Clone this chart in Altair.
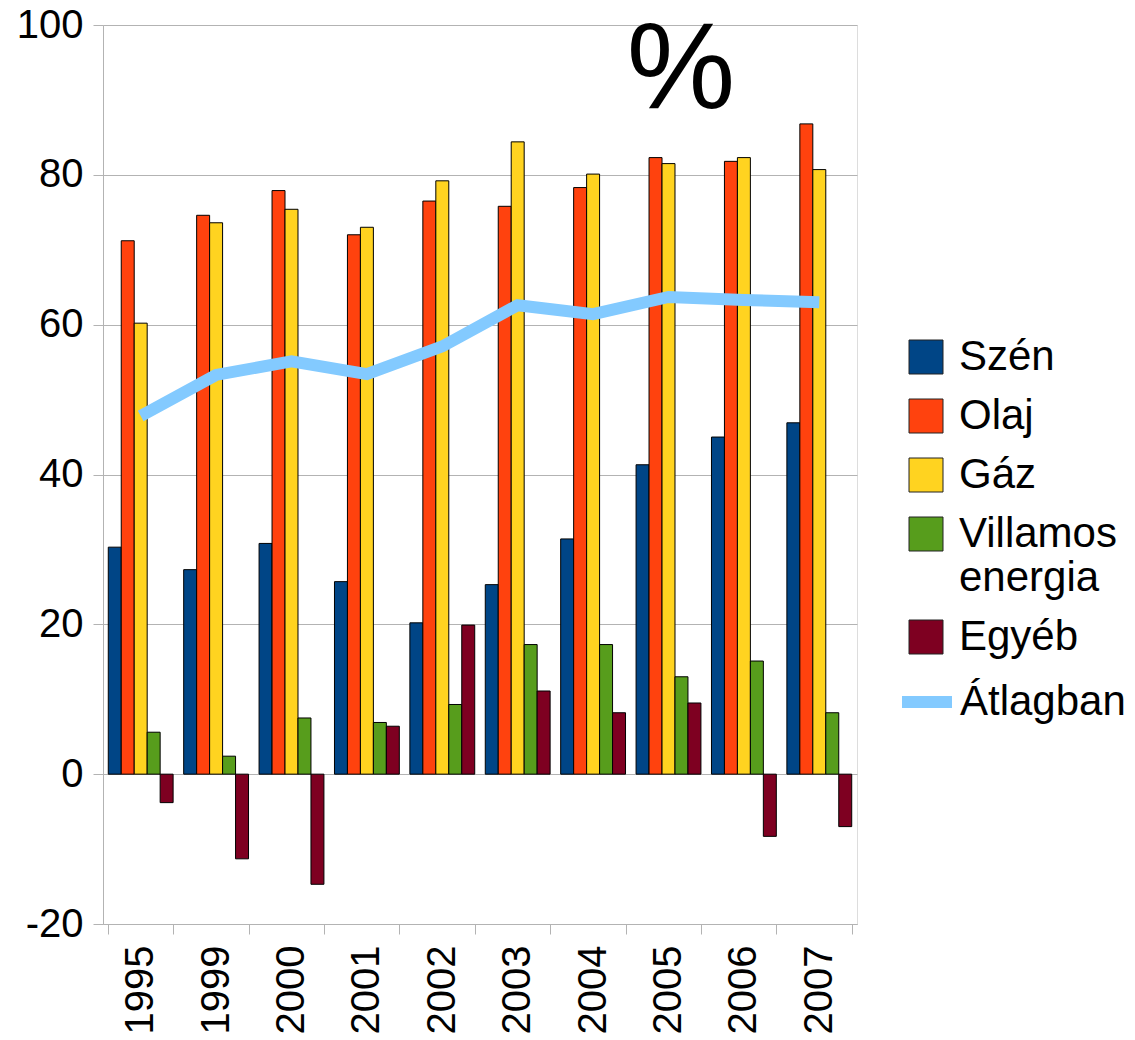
import altair as alt
import pandas as pd

years = ["1995", "1999", "2000", "2001", "2002", "2003", "2004", "2005", "2006", "2007"]
series_names = ["Szén", "Olaj", "Gáz", "Villamos energia", "Egyéb"]
series_colors = ["#004586", "#FF420E", "#FFD320", "#579D1C", "#7E0021"]
szen = [30.3, 27.3, 30.8, 25.7, 20.2, 25.3, 31.4, 41.3, 45.0, 46.9]
olaj = [71.2, 74.6, 77.9, 72.0, 76.5, 75.8, 78.3, 82.3, 81.8, 86.8]
gaz = [60.2, 73.6, 75.4, 73.0, 79.2, 84.4, 80.1, 81.5, 82.3, 80.7]
villamos = [5.6, 2.4, 7.5, 6.9, 9.3, 17.3, 17.3, 13.0, 15.1, 8.2]
egyeb = [-3.8, -11.3, -14.7, 6.4, 19.9, 11.1, 8.2, 9.5, -8.3, -7.0]
atlag_name = "Átlagban"
atlag_color = "#83CAFF"
atlag = [47.8, 53.3, 55.1, 53.4, 57.1, 62.6, 61.4, 63.7, 63.3, 63.0]
y_ticks = [-20, 0, 20, 40, 60, 80, 100]
title_text = "%"

FONT = "Liberation Sans"

rows = []
for name, vals in zip(series_names, [szen, olaj, gaz, villamos, egyeb]):
    for yr, v in zip(years, vals):
        rows.append({"Year": yr, "Series": name, "Value": v})
bars_df = pd.DataFrame(rows)
line_df = pd.DataFrame({"Year": years, "Value": atlag, "Series": [atlag_name] * len(years)})
title_df = pd.DataFrame({"t": [title_text]})

x_enc = alt.X(
    "Year:N",
    sort=years,
    scale=alt.Scale(paddingInner=0.14, paddingOuter=0.07),
    axis=alt.Axis(
        title=None,
        labelAngle=-90,
        labelFontSize=40,
        labelFont=FONT,
        labelColor="black",
        labelPadding=11,
        tickBand="extent",
        tickSize=10,
        tickColor="#b3b3b3",
        domainColor="#b3b3b3",
        grid=False,
    ),
)
y_enc = alt.Y(
    "Value:Q",
    scale=alt.Scale(domain=[-20, 100], nice=False, zero=False),
    axis=alt.Axis(
        title=None,
        values=y_ticks,
        labelExpr="datum.value < 0 ? '-' + abs(datum.value) : '' + datum.value",
        labelFontSize=40,
        labelFont=FONT,
        labelColor="black",
        labelPadding=10,
        tickSize=10,
        tickColor="#b3b3b3",
        domainColor="#b3b3b3",
        grid=True,
        gridColor="#b3b3b3",
        gridWidth=1,
    ),
)

bars = alt.Chart(bars_df).mark_bar(stroke="black", strokeWidth=1).encode(
    x=x_enc,
    y=y_enc,
    xOffset=alt.XOffset("Series:N", sort=series_names, scale=alt.Scale(paddingInner=0, paddingOuter=0)),
    color=alt.Color(
        "Series:N",
        sort=series_names,
        scale=alt.Scale(domain=series_names, range=series_colors),
        legend=alt.Legend(
            title=None,
            orient="none",
            legendX=802,
            legendY=311,
            symbolType="square",
            symbolSize=1156,
            symbolStrokeColor="#222222",
            symbolStrokeWidth=1,
            labelFontSize=42,
            labelFont=FONT,
            labelColor="black",
            labelOffset=12,
            rowPadding=17,
            labelLimit=400,
            labelExpr="datum.label == 'Villamos energia' ? ['Villamos', 'energia'] : datum.label",
        ),
    ),
)

line = alt.Chart(line_df).mark_line(strokeWidth=12).encode(
    x=alt.X("Year:N", sort=years),
    y=alt.Y("Value:Q"),
    stroke=alt.Stroke(
        "Series:N",
        scale=alt.Scale(domain=[atlag_name], range=[atlag_color]),
        legend=alt.Legend(
            title=None,
            orient="none",
            legendX=793,
            legendY=646,
            symbolType="stroke",
            symbolSize=2500,
            symbolStrokeWidth=12,
            labelFontSize=42,
            labelFont=FONT,
            labelColor="black",
            labelOffset=2,
            labelLimit=400,
        ),
    ),
)

title = alt.Chart(title_df).mark_text(
    font=FONT, fontSize=122, color="black", align="center", baseline="alphabetic"
).encode(
    text="t:N",
    x=alt.value(578),
    y=alt.value(83),
)

chart = alt.layer(bars, line, title).resolve_scale(
    color="independent", stroke="independent"
).properties(
    width=754,
    height=899,
    autosize=alt.AutoSizeParams(type="none"),
    padding={"left": 95, "top": 17, "right": 270, "bottom": 114},
).configure_view(
    stroke="#b3b3b3", strokeWidth=1
).configure(background="white")

chart.save("out.html", embed_options={"renderer": "svg", "actions": False})
